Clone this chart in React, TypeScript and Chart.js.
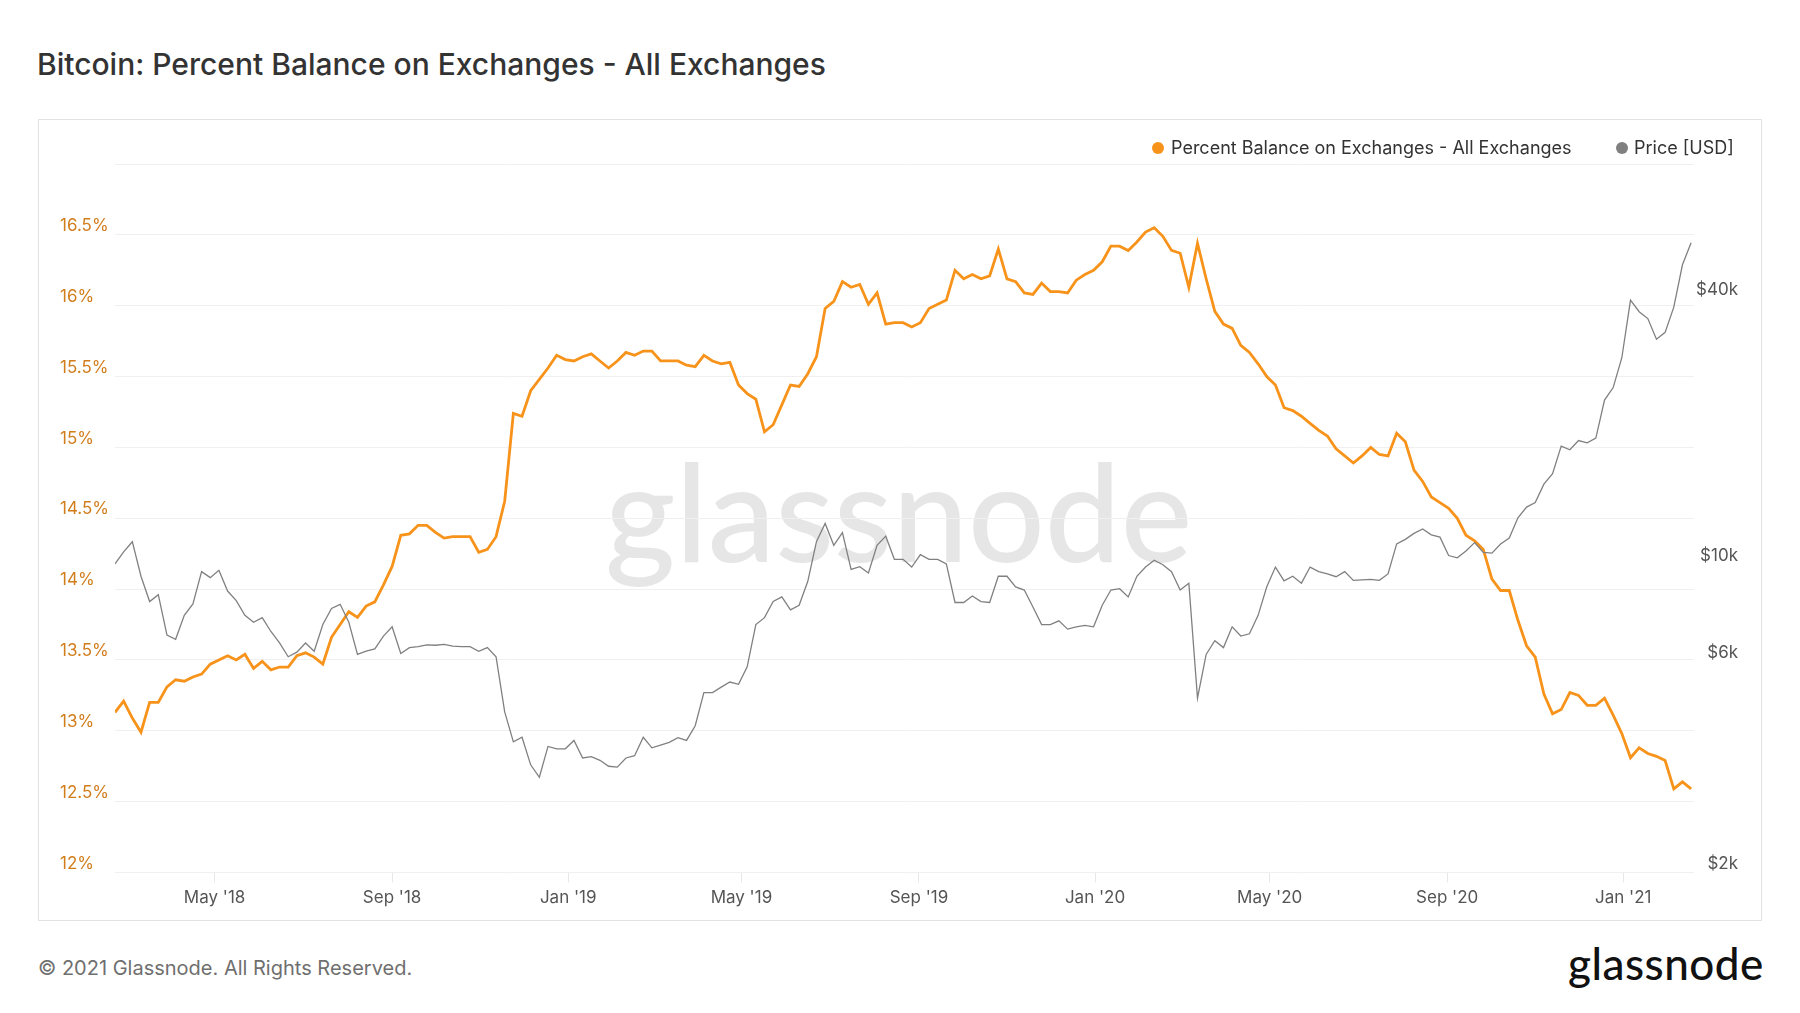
import React, { useEffect, useRef } from 'react';
import { Chart, registerables } from 'chart.js';

Chart.register(...registerables);

// ---- data ----
const START_DATE = '2018-02-21';
const STEP_DAYS = 6;
const END_DATE = '2021-02-19';

// Percent Balance on Exchanges - All Exchanges (%), one value every STEP_DAYS from START_DATE
const BALANCE = [
  13.13, 13.21, 13.09, 12.99, 13.20, 13.20, 13.31, 13.36, 13.35, 13.38, 13.40, 13.47, 13.50, 13.53, 13.50, 13.54,
  13.44, 13.49, 13.43, 13.45, 13.45, 13.53, 13.55, 13.52, 13.47, 13.66, 13.75, 13.84, 13.80, 13.88, 13.91, 14.03,
  14.16, 14.38, 14.39, 14.45, 14.45, 14.40, 14.36, 14.37, 14.37, 14.37, 14.26, 14.28, 14.37, 14.62, 15.24,
  15.22, 15.40, 15.48, 15.56, 15.65, 15.62, 15.61, 15.64, 15.66, 15.61, 15.56, 15.61, 15.67, 15.65, 15.68, 15.68,
  15.61, 15.61, 15.61, 15.58, 15.57, 15.65, 15.61, 15.59, 15.60, 15.44, 15.38, 15.34, 15.11, 15.16, 15.30, 15.44,
  15.43, 15.52, 15.64, 15.98, 16.03, 16.17, 16.13, 16.15, 16.01, 16.09, 15.87, 15.88, 15.88, 15.85,
  15.88, 15.98, 16.01, 16.04, 16.25, 16.19, 16.22, 16.19, 16.21, 16.40, 16.19, 16.17, 16.09, 16.08, 16.16, 16.10,
  16.10, 16.09, 16.18, 16.22, 16.25, 16.31, 16.42, 16.42, 16.39, 16.45, 16.52, 16.55, 16.49, 16.39, 16.37, 16.13,
  16.44, 16.19, 15.96, 15.87, 15.84, 15.72, 15.67, 15.59, 15.50, 15.44, 15.28, 15.26, 15.22, 15.17, 15.12,
  15.08, 14.99, 14.94, 14.89, 14.94, 15.00, 14.95, 14.94, 15.10, 15.04, 14.84, 14.76, 14.65, 14.61, 14.57, 14.50,
  14.38, 14.34, 14.28, 14.07, 13.99, 13.99, 13.78, 13.60, 13.52, 13.26, 13.12, 13.15, 13.27, 13.25, 13.18, 13.18,
  13.23, 13.11, 12.98, 12.81, 12.88, 12.84, 12.82, 12.79, 12.59, 12.64, 12.59,
];

// Price [USD], same dates
const PRICE = [
  10030, 10680, 11260, 9400, 8237, 8540, 6912, 6764, 7663, 8138, 9630, 9333, 9698, 8702, 8276, 7663,
  7393, 7573, 7045, 6634, 6173, 6324, 6634, 6354, 7305, 7945, 8119, 7393, 6247, 6354, 6431, 6879,
  7218, 6278, 6476, 6507, 6570, 6555, 6585, 6525, 6507, 6507, 6354, 6476, 6173, 4627, 3957,
  4054, 3510, 3289, 3864, 3817, 3817, 3987, 3638, 3664, 3594, 3484, 3467, 3638, 3682, 4054, 3836,
  3892, 3948, 4045, 3987, 4305, 5118, 5118, 5268, 5409, 5345, 5855, 7305, 7573, 8237, 8437, 7888,
  8080, 9157, 11260, 12390, 11050, 11810, 9746, 9886, 9561, 11050, 11590, 10270, 10270, 9863,
  10525, 10270, 10270, 10030, 8197, 8197, 8479, 8237, 8197, 9400, 9400, 8895, 8747, 8003, 7305, 7305,
  7447, 7132, 7218, 7271, 7218, 8080, 8747, 8810, 8437, 9400, 9863, 10225, 9984, 9630, 8747, 9068,
  4973, 6247, 6714, 6476, 7218, 6879, 6961, 7663, 8895, 9863, 9178, 9400, 9068, 9863, 9630,
  9515, 9379, 9630, 9200, 9222, 9244, 9200, 9515, 11130, 11400, 11760, 12040, 11670, 11530, 10475, 10350,
  10730, 11205, 10655, 10610, 11130, 11480, 12760, 13490, 13810, 15210, 16070, 18560, 18200, 19100, 18870, 19340,
  23600, 25190, 29440, 39770, 37450, 36120, 32420, 33610, 38350, 47850, 53700,
];

const X_TICK_DATES = ['2018-05-01', '2018-09-01', '2019-01-01', '2019-05-01', '2019-09-01', '2020-01-01', '2020-05-01', '2020-09-01', '2021-01-01'];
const X_TICK_LABELS = ["May '18", "Sep '18", "Jan '19", "May '19", "Sep '19", "Jan '20", "May '20", "Sep '20", "Jan '21"];
const LEFT_TICKS = [12, 12.5, 13, 13.5, 14, 14.5, 15, 15.5, 16, 16.5, 17];
const RIGHT_TICKS = [2000, 6000, 10000, 40000];
const RIGHT_TICK_LABELS = ['$2k', '$6k', '$10k', '$40k'];

const SERIES_BALANCE = 'Percent Balance on Exchanges - All Exchanges';
const SERIES_PRICE = 'Price [USD]';

const DAY = 86400000;
const dayOf = (d: string) => (Date.parse(d) - Date.parse(START_DATE)) / DAY;

const ORANGE = '#f7931a';
const GREY = '#808080';
const FONT = 'Inter, "Noto Sans", sans-serif';

export default function App() {
  const ref = useRef<HTMLCanvasElement | null>(null);

  useEffect(() => {
    if (!ref.current) return;
    const xTicks = X_TICK_DATES.map(dayOf);
    const chart = new Chart(ref.current, {
      type: 'line',
      data: {
        datasets: [
          {
            label: SERIES_PRICE,
            data: PRICE.map((v, i) => ({ x: i * STEP_DAYS, y: v })),
            yAxisID: 'yPrice',
            borderColor: GREY,
            borderWidth: 1.3,
            pointRadius: 0,
            tension: 0,
            order: 1,
          },
          {
            label: SERIES_BALANCE,
            data: BALANCE.map((v, i) => ({ x: i * STEP_DAYS, y: v })),
            yAxisID: 'yBal',
            borderColor: ORANGE,
            borderWidth: 2.8,
            pointRadius: 0,
            tension: 0,
            order: 2,
          },
        ],
      },
      options: {
        animation: false,
        responsive: false,
        maintainAspectRatio: false,
        layout: { padding: { left: 22, right: 24, top: 45, bottom: 0 } },
        plugins: { legend: { display: false }, tooltip: { enabled: false } },
        scales: {
          x: {
            type: 'linear',
            min: 0,
            max: dayOf(END_DATE),
            afterBuildTicks: (s: any) => {
              s.ticks = xTicks.map((v) => ({ value: v }));
            },
            afterFit: (s: any) => {
              s.height = 48.5;
            },
            ticks: {
              autoSkip: false,
              maxRotation: 0,
              padding: 5,
              color: '#555',
              font: { family: FONT, size: 17 },
              callback: (_v: any, i: number) => X_TICK_LABELS[i],
            },
            grid: { drawOnChartArea: false, drawTicks: true, tickLength: 10, color: '#e8e8e8' },
            border: { display: false },
          },
          yBal: {
            type: 'linear',
            position: 'left',
            min: 12,
            max: 17,
            afterBuildTicks: (s: any) => {
              s.ticks = LEFT_TICKS.map((v) => ({ value: v }));
            },
            afterFit: (s: any) => {
              s.width = 55;
            },
            ticks: {
              crossAlign: 'far',
              labelOffset: -9,
              color: '#d27d1c',
              font: { family: FONT, size: 17 },
              callback: (v: any) => (v === 17 ? '' : `${v}%`),
            },
            grid: { color: '#f0f0f0', drawTicks: false, lineWidth: 1 },
            border: { display: false },
          },
          yPrice: {
            type: 'logarithmic',
            position: 'right',
            min: 2000,
            max: 81000,
            afterBuildTicks: (s: any) => {
              s.ticks = RIGHT_TICKS.map((v) => ({ value: v }));
            },
            afterFit: (s: any) => {
              s.width = 44;
            },
            ticks: {
              crossAlign: 'far',
              labelOffset: -9,
              color: '#555',
              font: { family: FONT, size: 17 },
              callback: (_v: any, i: number) => RIGHT_TICK_LABELS[i],
            },
            grid: { display: false },
            border: { display: false },
          },
        },
      } as any,
    });
    return () => chart.destroy();
  }, []);

  const abs = (s: React.CSSProperties): React.CSSProperties => ({ position: 'absolute', ...s });

  return (
    <div style={{ position: 'absolute', left: 0, top: 0, width: 1800, height: 1013, background: '#fff', fontFamily: FONT, overflow: 'hidden' }}>
      <div style={abs({ left: 37, top: 44, fontSize: 30, fontWeight: 500, color: '#333', lineHeight: '40px', whiteSpace: 'nowrap' })}>
        Bitcoin: Percent Balance on Exchanges - All Exchanges
      </div>
      <div style={abs({ left: 38, top: 119, width: 1724, height: 802, boxSizing: 'border-box', border: '1px solid #e2e2e2' })} />
      <div
        style={abs({
          left: 605,
          top: 420,
          fontFamily: 'Lato, sans-serif',
          fontSize: 135,
          fontWeight: 500,
          color: '#e6e6e6',
          lineHeight: '180px',
          letterSpacing: 0,
          whiteSpace: 'nowrap',
        })}
      >
        glassnode
      </div>
      <canvas ref={ref} width={1724} height={802} style={abs({ left: 38, top: 119, width: 1724, height: 802 })} />
      {/* legend */}
      <div style={abs({ left: 1152, top: 142, width: 12, height: 12, borderRadius: 6, background: ORANGE })} />
      <div style={abs({ left: 1171, top: 136, fontSize: 18, lineHeight: '24px', color: '#333', whiteSpace: 'nowrap' })}>{SERIES_BALANCE}</div>
      <div style={abs({ left: 1616, top: 142, width: 12, height: 12, borderRadius: 6, background: GREY })} />
      <div style={abs({ left: 1634, top: 136, fontSize: 18, lineHeight: '24px', color: '#333', whiteSpace: 'nowrap' })}>{SERIES_PRICE}</div>
      {/* footer */}
      <div style={abs({ left: 38, top: 955, fontSize: 20, lineHeight: '26px', color: '#6f6f6f', whiteSpace: 'nowrap' })}>
        © 2021 Glassnode. All Rights Reserved.
      </div>
      <div style={abs({ left: 1568, top: 935, fontFamily: 'Lato, sans-serif', fontSize: 44, fontWeight: 500, lineHeight: '56px', color: '#111', letterSpacing: 0.5, whiteSpace: 'nowrap' })}>
        glassnode
      </div>
    </div>
  );
}
